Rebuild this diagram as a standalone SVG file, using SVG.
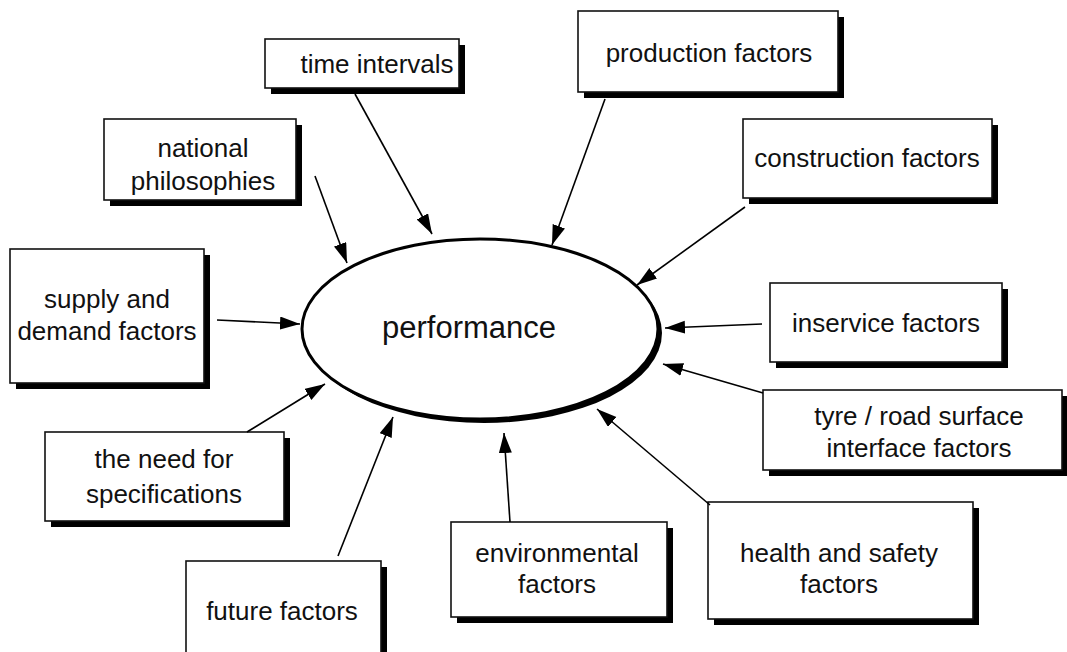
<svg xmlns="http://www.w3.org/2000/svg" width="1067" height="652" viewBox="0 0 1067 652">
<defs>
<style>
.box{fill:#fff;stroke:#111;stroke-width:1.6}
.sh{fill:#000}
.t{font-family:"Liberation Sans",Arial,sans-serif;font-size:26px;fill:#111;text-anchor:middle}
.c{stroke:#000;stroke-width:1.6;fill:none;marker-end:url(#ah)}
</style>
<marker id="ah" markerUnits="userSpaceOnUse" markerWidth="22" markerHeight="14" refX="20" refY="6.5" orient="auto">
<path d="M0,0 L20,6.5 L0,13 z" fill="#000"/>
</marker>
</defs>
<rect width="1067" height="652" fill="#fff"/>
<g id="performance">
<ellipse cx="484" cy="333" rx="178" ry="90" fill="#000"/>
<ellipse cx="480" cy="329" rx="178" ry="90" fill="#fff" stroke="#000" stroke-width="3"/>
<text x="469" y="338" class="t" style="font-size:31px">performance</text>
</g>
<g id="time-intervals">
<rect class="sh" x="271" y="45" width="194" height="49"/>
<rect class="box" x="265" y="39" width="194" height="49"/>
<text class="t" x="377" y="73">time intervals</text>
</g>
<g id="production-factors">
<rect class="sh" x="584" y="17" width="260" height="81"/>
<rect class="box" x="578" y="11" width="260" height="81"/>
<text class="t" x="709" y="62">production factors</text>
</g>
<g id="national-philosophies">
<rect class="sh" x="110" y="125" width="192" height="81"/>
<rect class="box" x="104" y="119" width="192" height="81"/>
<text class="t" x="203" y="157">national</text>
<text class="t" x="203" y="190">philosophies</text>
</g>
<g id="construction-factors">
<rect class="sh" x="749" y="125" width="249" height="79"/>
<rect class="box" x="743" y="119" width="249" height="79"/>
<text class="t" x="867" y="167">construction factors</text>
</g>
<g id="supply-demand">
<rect class="sh" x="16" y="255" width="194" height="134"/>
<rect class="box" x="10" y="249" width="194" height="134"/>
<text class="t" x="107" y="308">supply and</text>
<text class="t" x="107" y="340">demand factors</text>
</g>
<g id="need-for-specifications">
<rect class="sh" x="51" y="438" width="239" height="89"/>
<rect class="box" x="45" y="432" width="239" height="89"/>
<text class="t" x="164" y="468">the need for</text>
<text class="t" x="164" y="503">specifications</text>
</g>
<g id="future-factors">
<rect class="sh" x="192" y="567" width="195" height="95"/>
<rect class="box" x="186" y="561" width="195" height="95"/>
<text class="t" x="282" y="620">future factors</text>
</g>
<g id="environmental-factors">
<rect class="sh" x="457" y="528" width="216" height="95"/>
<rect class="box" x="451" y="522" width="216" height="95"/>
<text class="t" x="557" y="562">environmental</text>
<text class="t" x="557" y="593">factors</text>
</g>
<g id="health-safety">
<rect class="sh" x="714" y="508" width="265" height="117"/>
<rect class="box" x="708" y="502" width="265" height="117"/>
<text class="t" x="839" y="562">health and safety</text>
<text class="t" x="839" y="593">factors</text>
</g>
<g id="inservice-factors">
<rect class="sh" x="776" y="289" width="232" height="79"/>
<rect class="box" x="770" y="283" width="232" height="79"/>
<text class="t" x="886" y="332">inservice factors</text>
</g>
<g id="tyre-road">
<rect class="sh" x="769" y="396" width="299" height="80"/>
<rect class="box" x="763" y="390" width="299" height="80"/>
<text class="t" x="919" y="425">tyre / road surface</text>
<text class="t" x="919" y="457">interface factors</text>
</g>
<g id="connectors">
<line class="c" x1="355" y1="94" x2="432" y2="234"/>
<line class="c" x1="605" y1="99" x2="552" y2="245"/>
<line class="c" x1="315" y1="176" x2="347" y2="263"/>
<line class="c" x1="745" y1="207" x2="637" y2="285"/>
<line class="c" x1="762" y1="324" x2="665" y2="328"/>
<line class="c" x1="763" y1="393" x2="663" y2="364"/>
<line class="c" x1="710" y1="505" x2="597" y2="409"/>
<line class="c" x1="510" y1="522" x2="504" y2="433"/>
<line class="c" x1="338" y1="556" x2="393" y2="417"/>
<line class="c" x1="247" y1="432" x2="325" y2="384"/>
<line class="c" x1="217" y1="320" x2="300" y2="324"/>
</g>
</svg>
